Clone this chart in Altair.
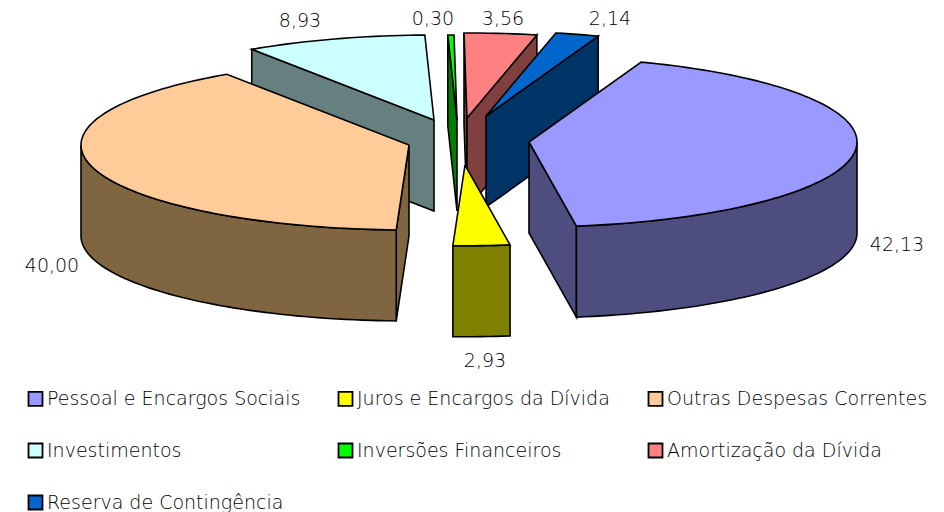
import math
import altair as alt
import pandas as pd

categories = ["Pessoal e Encargos Sociais", "Juros e Encargos da Dívida", "Outras Despesas Correntes",
              "Investimentos", "Inversões Financeiros", "Amortização da Dívida", "Reserva de Contingência"]
values = [42.13, 2.93, 40.00, 8.93, 0.30, 3.56, 2.14]
value_labels = ["42,13", "2,93", "40,00", "8,93", "0,30", "3,56", "2,14"]
top_colors = ["#9999FF", "#FFFF00", "#FFCC99", "#CCFFFF", "#00FF00", "#FF8080", "#0066CC"]
side_colors = ["#4D4D80", "#808000", "#806640", "#668080", "#008000", "#804040", "#003366"]

# layout of the exploded 3-D pie, in picture pixels
apex_x = [529, 465, 409, 434, 457, 467, 486]
apex_y = [142, 165, 145, 120, 120, 118, 116]
radius_scale = [1, 0.95, 1, 1, 1, 1, 1]
label_x = [897, 485, 52, 300, 433, 503, 610]
label_y = [245, 361, 266, 21, 19, 19, 19]
RX, RY, DEPTH, START = 328, 85, 91, 20.0
DRAW_ORDER = [3, 4, 5, 6, 0, 2, 1]
# Vega flows a 3-column legend so that this domain order reads row by row as in the reference
LEGEND_SLOTS = [0, 3, 5, 1, 4, 6, 2]
FONT = "DejaVu Sans"
WEIGHT = 200

W, H = 928, 504
xs = alt.X("x:Q", scale=alt.Scale(domain=[8, 8 + W], range=[0, W]), axis=None)
ys = alt.Y("y:Q", scale=alt.Scale(domain=[8, 8 + H], range=[0, H]), axis=None)
fill_scale = alt.Scale(domain=[categories[k] for k in LEGEND_SLOTS],
                       range=[top_colors[k] for k in LEGEND_SLOTS])

# start / end angles from the values
angles = []
a = START
total = sum(values)
for v in values:
    b = a + v / total * 360
    angles.append((a, b))
    a = b


def rim(i, deg):
    r = radius_scale[i]
    t = math.radians(deg)
    return apex_x[i] + RX * r * math.sin(t), apex_y[i] - RY * r * math.cos(t)


def arc_pts(i, a0, a1):
    n = max(2, int(abs(a1 - a0) / 1.5) + 1)
    return [rim(i, a0 + (a1 - a0) * k / n) for k in range(n + 1)]


def frame(points, name):
    pts = list(points) + [points[0]]
    return pd.DataFrame({"x": [p[0] for p in pts], "y": [p[1] for p in pts],
                         "i": range(len(pts)), "name": name})


def poly(points, name, color=None):
    kw = dict(filled=True, stroke="black", strokeWidth=1.6, strokeJoin="miter", clip=False, interpolate="linear")
    enc = dict(x=xs, y=ys, order="i:Q")
    if color is None:
        enc["fill"] = alt.Fill("name:N", scale=fill_scale,
                               legend=alt.Legend(title=None, orient="none", legendX=18, legendY=381, columns=3,
                                                 gridAlign="all", symbolType="square", symbolSize=196,
                                                 symbolStrokeColor="black", symbolStrokeWidth=1.8,
                                                 symbolOpacity=1,
                                                 labelFont=FONT, labelFontSize=19, labelFontWeight=WEIGHT,
                                                 labelColor="black",
                                                 labelLimit=300, labelOffset=2, columnPadding=26,
                                                 rowPadding=29, padding=0))
    else:
        kw["fill"] = color
    return alt.Chart(frame(points, name)).mark_line(**kw).encode(**enc)


layers = []
for i in DRAW_ORDER:
    s, e = angles[i]
    ax, ay = apex_x[i], apex_y[i]
    down = lambda p: (p[0], p[1] + DEPTH)
    # cut faces that look towards the viewer
    if math.sin(math.radians(s)) < 0:
        p = rim(i, s)
        layers.append(poly([(ax, ay), p, down(p), (ax, ay + DEPTH)], "side", side_colors[i]))
    if math.sin(math.radians(e)) > 0:
        p = rim(i, e)
        layers.append(poly([(ax, ay), p, down(p), (ax, ay + DEPTH)], "side", side_colors[i]))
    # outer wall: lower half of the rim only
    lo, hi = max(s, 90), min(e, 270)
    if hi > lo:
        top = arc_pts(i, lo, hi)
        layers.append(poly(top + [down(p) for p in reversed(top)], "side", side_colors[i]))
    # top face
    layers.append(poly([(ax, ay)] + arc_pts(i, s, e), categories[i]))

labels = pd.DataFrame({"x": label_x, "y": label_y, "t": value_labels})
layers.append(alt.Chart(labels).mark_text(font=FONT, fontSize=19, fontWeight=WEIGHT, color="black").encode(x=xs, y=ys, text="t:N"))

chart = alt.layer(*layers).properties(
    width=W, height=H, padding=0, autosize=alt.AutoSizeParams(type="none")
).configure_view(stroke=None)

chart.save("out.html", embed_options={"renderer": "svg", "actions": False})
